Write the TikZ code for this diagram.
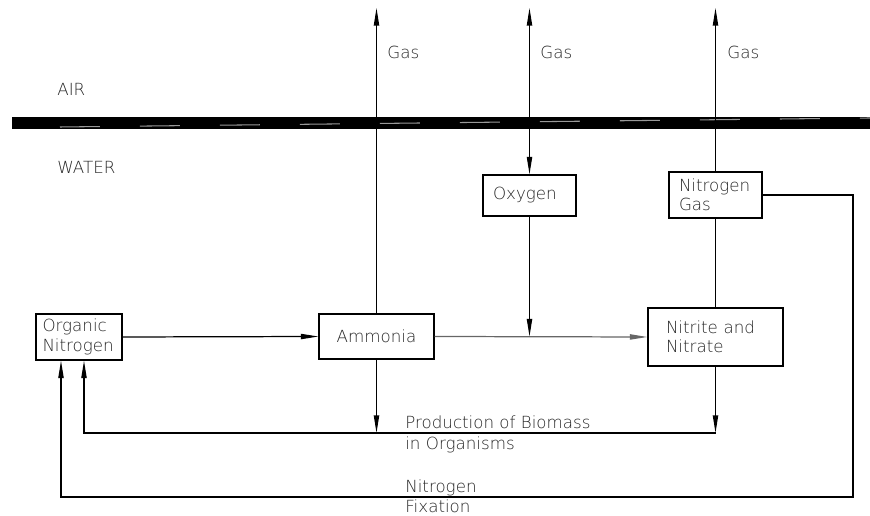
\documentclass[tikz,border=0pt]{standalone}
\usepackage{fontspec}
\setmainfont{DejaVu Sans ExtraLight}
\usetikzlibrary{arrows.meta}

\begin{document}
\begin{tikzpicture}[x=0.02cm,y=-0.02cm,
    font=\fontsize{9.5}{11}\selectfont,
    >={Triangle[length=10pt,width=3pt]},
    flow/.style={line width=0.7pt, ->},
    link/.style={line width=0.7pt},
    box/.style={draw, line width=0.7pt, align=left, inner ysep=0pt, text=black!85},
    txt/.style={anchor=west, inner sep=0pt, align=left, text=black!85}
  ]
\useasboundingbox (0,0) rectangle (870,516);

% surface between air and water
\fill (12,117) rectangle (870,129);
\draw[black!40, line width=0.6pt, dash pattern=on 0.8cm off 0.8cm] (60,127) -- (870,118);

\node[txt] (air) at (57,89) {AIR};
\node[txt] (water) at (57,167) {WATER};

% boxes
\node[box, text width=1.46cm, inner xsep=0.13cm, minimum height=0.92cm] (Organic) at (79,337) {Organic\\Nitrogen};
\node[box, text width=2.3cm, inner xsep=0pt, minimum height=0.9cm, align=center] (Ammonia) at (376.5,336.5) {Ammonia};
\node[box, text width=1.46cm, inner xsep=0.2cm, minimum height=0.82cm] (Oxygen) at (529.5,195.5) {Oxygen};
\node[box, text width=1.46cm, inner xsep=0.2cm, minimum height=0.92cm] (NitroGas) at (715.5,195) {Nitrogen\\Gas};
\node[box, text width=1.98cm, inner xsep=0.36cm, minimum height=1.16cm] (Nitrite) at (715.5,337) {Nitrite and\\Nitrate};

% gas exchange
\coordinate (gasA) at (376.5,8);
\coordinate (gasB) at (529.5,8);
\coordinate (gasC) at (715.5,8);
\node[txt] (gasAtxt) at (387,52) {Gas};
\node[txt] (gasBtxt) at (540,52) {Gas};
\node[txt] (gasCtxt) at (727,52) {Gas};

\draw[flow] (Ammonia.north) -- (gasA);
\draw[link, <->] (Oxygen.north) -- (gasB);
\draw[flow] (NitroGas.north) -- (gasC);

% main flow
\draw[flow] (Organic.east) -- (Ammonia.west);
\draw[flow, black!60] (Ammonia.east) -- (Nitrite.west);
\draw[flow] (Oxygen.south) -- (Oxygen.south |- Ammonia.east);
\draw[link] (NitroGas.south) -- (Nitrite.north);

% biomass loop
\coordinate (bioL) at (84,433);
\coordinate (bioR) at (715.5,433);
\draw[flow] (Ammonia.south) -- (Ammonia.south |- bioL);
\draw[flow] (Nitrite.south) -- (bioR);
\draw[flow] (bioR) -- (bioL) -- (bioL |- Organic.south);
\node[txt, font=\fontsize{9.5}{12}\selectfont] (biomass) at (405,434.5) {Production of Biomass\\in Organisms};

% fixation loop
\coordinate (fixL) at (61,497);
\coordinate (fixR) at (853,497);
\draw[flow] (NitroGas.east) -| (fixR) -- (fixL) -- (fixL |- Organic.south);
\node[txt, font=\fontsize{9.5}{11.5}\selectfont] (fixation) at (405,496) {Nitrogen\\Fixation};
\end{tikzpicture}
\end{document}
